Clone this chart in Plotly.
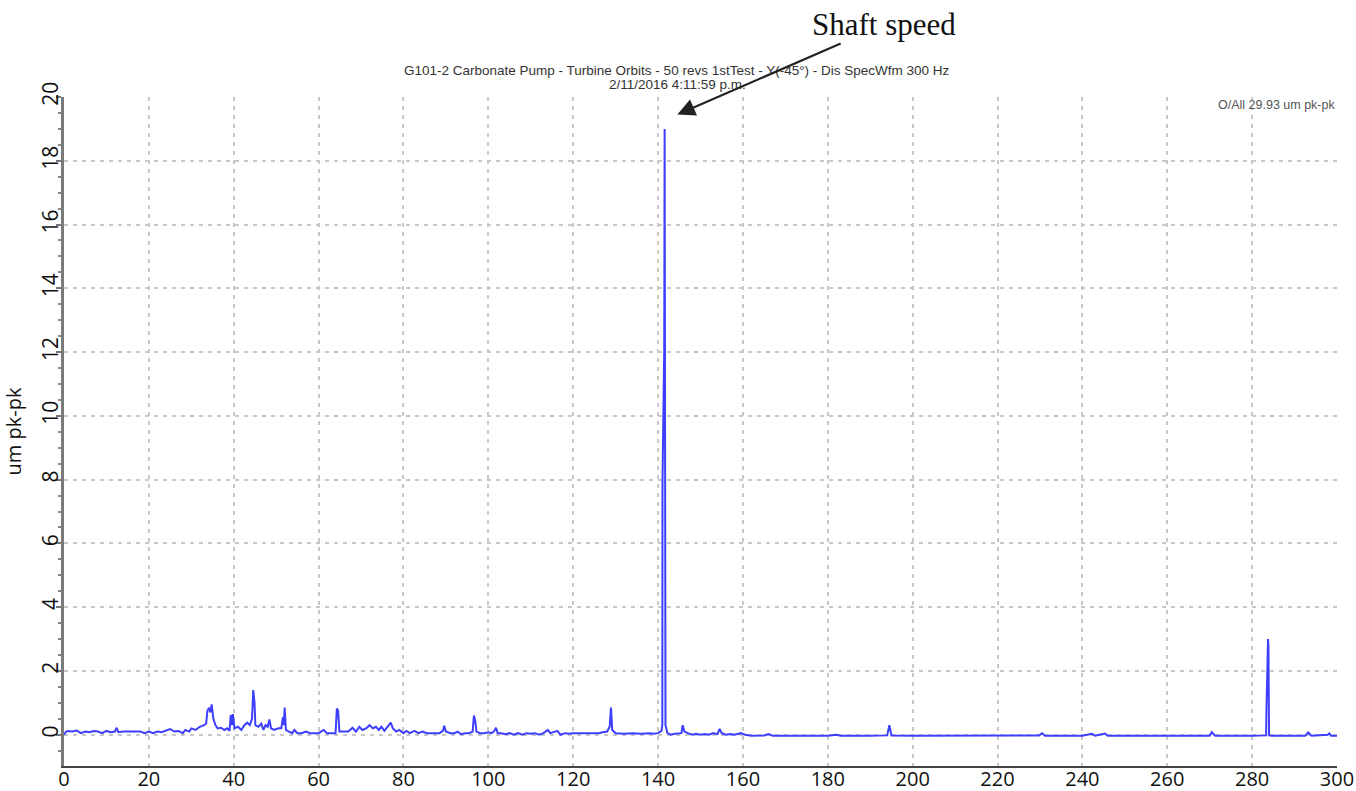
import plotly.graph_objects as go

# Spectrum: frequency (Hz) and amplitude (um pk-pk)
freq = [0, 0.5, 1, 2, 3, 4, 5, 6, 7, 8, 9, 10, 11, 12, 12.4, 12.8, 14, 15, 16, 17, 18, 19, 20,
        21, 22, 23, 24, 25, 26, 27, 28, 28.6, 29.5, 30, 31, 32, 33, 33.5, 33.8, 34.2, 34.5, 34.8,
        35.2, 35.7, 36.2, 37, 37.8, 38.5, 39.0, 39.3, 39.6, 39.8, 40.2, 41, 41.8, 42.5, 43.2, 43.8,
        44.3, 44.6, 44.9, 45.1, 45.8, 46.5, 47, 47.5, 48.0, 48.4, 48.8, 49.5, 50.5, 51.2, 51.6,
        51.8, 52.0, 52.3, 53, 53.8, 54.3, 55, 56, 57, 58, 59, 60, 61.2, 62, 63, 64.0, 64.3, 64.6,
        64.9, 66, 67, 68, 68.8, 69.6, 70.3, 71.2, 72, 72.8, 73.5, 74.2, 74.8, 75.5, 76.3, 77.0,
        77.5, 78.3, 79, 80, 80.7, 81.5, 82.6, 83.5, 84.5, 85.5, 86.5, 87.5, 88.5, 89.3, 89.6, 90,
        91, 92, 92.8, 93.5, 94.5, 95.5, 96.3, 96.6, 96.9, 97.2, 98, 99, 100, 100.8, 101.4, 101.8,
        102.2, 103, 104, 105, 106, 107, 108, 109, 110, 111, 112, 113, 114.0, 114.6, 115.5, 116.3,
        117, 118, 119, 120, 122, 124, 126, 127, 128, 128.6, 128.9, 129.2, 130, 132, 134, 136, 138,
        139, 140, 140.8, 141.0, 141.05, 141.45, 141.55, 141.7, 141.75, 142.2, 143, 144, 145.5,
        145.8, 146.2, 147, 148, 149, 150, 151, 152, 153, 154.0, 154.5, 155, 156, 157, 158, 159.5,
        160.5, 162, 165, 166, 167, 170, 175, 180, 182, 183, 190, 194, 194.5, 195, 200, 210, 220,
        229.8, 230.5, 231.2, 240, 242.2, 243, 245.3, 246, 260, 270.0, 270.5, 271.3, 280, 283.3,
        283.35, 283.75, 283.85, 283.95, 284.0, 284.8, 292.5, 293.2, 294, 297.8, 298.2, 298.6, 300]
amp = [0.0, 0.1, 0.12, 0.1, 0.13, 0.05, 0.1, 0.08, 0.12, 0.1, 0.05, 0.12, 0.08, 0.1, 0.22, 0.08,
       0.1, 0.1, 0.1, 0.12, 0.1, 0.05, 0.1, 0.05, 0.1, 0.08, 0.12, 0.18, 0.1, 0.12, 0.05, 0.15,
       0.1, 0.2, 0.15, 0.25, 0.3, 0.35, 0.75, 0.85, 0.7, 0.95, 0.5, 0.3, 0.2, 0.22, 0.15, 0.2,
       0.12, 0.62, 0.3, 0.65, 0.2, 0.25, 0.15, 0.3, 0.38, 0.3, 0.5, 1.4, 1.0, 0.3, 0.25, 0.35,
       0.15, 0.3, 0.25, 0.48, 0.2, 0.15, 0.2, 0.2, 0.55, 0.3, 0.85, 0.15, 0.1, 0.05, 0.15, 0.05,
       0.05, 0.1, 0.05, 0.05, 0.05, 0.15, 0.05, 0.05, 0.05, 0.82, 0.75, 0.1, 0.1, 0.1, 0.22, 0.1,
       0.25, 0.15, 0.2, 0.3, 0.2, 0.25, 0.15, 0.25, 0.12, 0.25, 0.38, 0.2, 0.1, 0.15, 0.05, 0.12,
       0.05, 0.12, 0.05, 0.1, 0.05, 0.05, 0.05, 0.05, 0.12, 0.28, 0.1, 0.05, 0.05, 0.1, 0.02,
       0.05, 0.05, 0.1, 0.6, 0.45, 0.1, 0.05, 0.05, 0.08, 0.05, 0.12, 0.22, 0.05, 0.05, 0.02,
       0.05, 0.0, 0.05, 0.0, 0.05, 0.03, 0.05, 0.0, 0.05, 0.15, 0.05, 0.08, 0.12, 0.0, 0.05, 0.03,
       0.05, 0.05, 0.05, 0.05, 0.08, 0.1, 0.25, 0.85, 0.15, 0.05, 0.03, 0.05, 0.03, 0.05, 0.03,
       0.05, 0.12, 0.3, 8.0, 12.1, 19.0, 8.0, 0.3, 0.05, 0.0, 0.03, 0.05, 0.3, 0.1, 0.05, 0.0,
       0.03, 0.0, 0.02, 0.0, 0.05, 0.02, 0.18, 0.05, 0.0, 0.02, 0.0, 0.05, 0.0, -0.03, -0.02, 0.02,
       -0.03, -0.03, -0.03, -0.03, 0.0, -0.03, -0.03, -0.02, 0.3, -0.02, -0.03, -0.03, -0.03,
       -0.02, 0.05, -0.03, -0.03, 0.03, -0.03, 0.04, -0.03, -0.03, -0.03, 0.08, -0.03, -0.03,
       -0.02, 0.65, 3.0, 2.75, 0.65, -0.02, -0.03, -0.03, 0.07, -0.03, 0.0, 0.04, -0.03, -0.03]

x_ticks = [0, 20, 40, 60, 80, 100, 120, 140, 160, 180, 200, 220, 240, 260, 280, 300]
y_ticks = [0, 2, 4, 6, 8, 10, 12, 14, 16, 18, 20]

title_lines = ["G101-2 Carbonate Pump - Turbine Orbits - 50 revs 1stTest - Y(-45°) - Dis SpecWfm 300 Hz",
               "2/11/2016 4:11:59 p.m."]
overall_text = "O/All 29.93 um pk-pk"
callout_text = "Shaft speed"
shaft_speed_hz = 141.55
shaft_speed_amp = 19.0

fig = go.Figure()
fig.add_trace(go.Scatter(x=freq, y=amp, mode="lines",
                         line=dict(color="rgb(62,62,255)", width=2),
                         showlegend=False, hoverinfo="x+y"))

grid = dict(showgrid=True, gridcolor="#c8c8c8", gridwidth=1.6, griddash="4px,5px")

fig.update_layout(
    width=1356, height=791,
    margin=dict(l=64, r=19, t=97, b=25),
    plot_bgcolor="white", paper_bgcolor="white",
    font=dict(family="Open Sans", color="#111"),
    xaxis=dict(range=[0, 300], tickvals=x_ticks, ticks="", showline=True, linecolor="#444",
               linewidth=1.5, tickfont=dict(size=20, color="#111"), zeroline=False,
               automargin=False, ticklabelstandoff=-6, **grid),
    yaxis=dict(range=[-0.98, 20], tickvals=y_ticks, tickangle=-90, ticks="outside", ticklen=5,
               tickwidth=2, tickcolor="#777", showline=True, linecolor="#7a7a7a", linewidth=3,
               tickfont=dict(size=21, color="#111"), zeroline=False, automargin=False,
               ticklabelstandoff=-10,
               minor=dict(dtick=0.5, ticks="outside", ticklen=3, tickcolor="#888", tickwidth=1.5,
                          showgrid=False),
               title=dict(text="um pk-pk", font=dict(size=20, color="#111"), standoff=18),
               **grid),
)

# two-line chart title
title_y = [70, 84]
for line, ypx in zip(title_lines, title_y):
    fig.add_annotation(xref="paper", yref="paper", x=(677 - 64) / 1273, y=1 + (97 - ypx) / 669,
                       text=line, showarrow=False, xanchor="center", yanchor="middle",
                       font=dict(family="Liberation Sans", size=13.5, color="#333"))

fig.add_annotation(xref="x", yref="y", x=shaft_speed_hz + 3, y=shaft_speed_amp + 0.45,
                   text=callout_text, showarrow=True, arrowhead=2, arrowsize=1.6, arrowwidth=2.2,
                   arrowcolor="#222", ax=207, ay=-90, standoff=0,
                   font=dict(family="Liberation Serif", size=31, color="#111"))
fig.add_annotation(xref="paper", yref="paper", x=1.0, y=1 + (97 - 105) / 669,
                   text=overall_text, showarrow=False, xanchor="right", yanchor="middle",
                   font=dict(family="Liberation Sans", size=12.5, color="#555"))

fig.write_html("out.html")
